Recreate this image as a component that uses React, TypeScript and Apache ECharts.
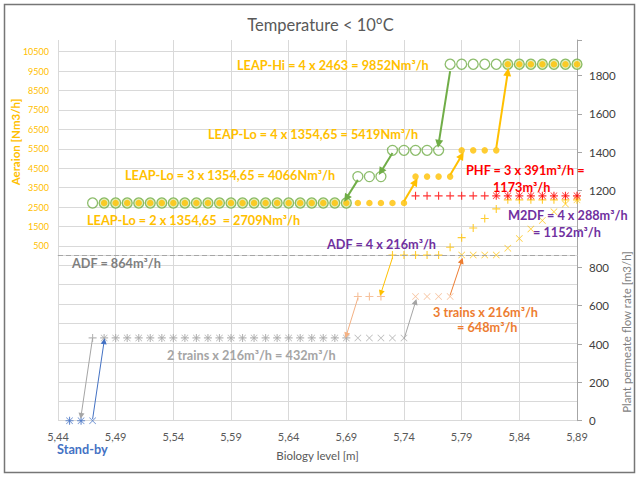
import React, { useEffect, useRef } from 'react';
import * as echarts from 'echarts';

const levels = ['5,44','5,45','5,46','5,47','5,48','5,49','5,50','5,51','5,52','5,53','5,54','5,55','5,56','5,57','5,58','5,59','5,60','5,61','5,62','5,63','5,64','5,65','5,66','5,67','5,68','5,69','5,70','5,71','5,72','5,73','5,74','5,75','5,76','5,77','5,78','5,79','5,80','5,81','5,82','5,83','5,84','5,85','5,86','5,87','5,88','5,89'];

// permeate flow [m3/h], '+' = rising level, 'x' = falling level
const flowUpStandby = [['5,45',0],['5,46',0]];
const flowDownStandby = [['5,45',0],['5,46',0],['5,47',0]];
const flowUp2Trains = [['5,47',432],['5,48',432],['5,49',432],['5,50',432],['5,51',432],['5,52',432],['5,53',432],['5,54',432],['5,55',432],['5,56',432],['5,57',432],['5,58',432],['5,59',432],['5,60',432],['5,61',432],['5,62',432],['5,63',432],['5,64',432],['5,65',432],['5,66',432],['5,67',432],['5,68',432],['5,69',432]];
const flowDown2Trains = [['5,48',432],['5,49',432],['5,50',432],['5,51',432],['5,52',432],['5,53',432],['5,54',432],['5,55',432],['5,56',432],['5,57',432],['5,58',432],['5,59',432],['5,60',432],['5,61',432],['5,62',432],['5,63',432],['5,64',432],['5,65',432],['5,66',432],['5,67',432],['5,68',432],['5,69',432],['5,70',432],['5,71',432],['5,72',432],['5,73',432],['5,74',432]];
const flowUp3Trains = [['5,70',648],['5,71',648],['5,72',648]];
const flowDown3Trains = [['5,75',648],['5,76',648],['5,77',648],['5,78',648]];
const flowUp4Trains = [['5,73',864],['5,74',864],['5,75',864],['5,76',864],['5,77',864],['5,78',905],['5,79',955],['5,80',1005],['5,81',1055],['5,82',1105],['5,83',1152],['5,84',1152],['5,85',1152],['5,86',1152],['5,87',1152],['5,88',1152],['5,89',1152]];
const flowDown4Trains = [['5,79',864],['5,80',864],['5,81',864],['5,82',864],['5,83',900],['5,84',950],['5,85',1000],['5,86',1045],['5,87',1090],['5,88',1130],['5,89',1152]];
const flowUpPHF = [['5,75',1173],['5,76',1173],['5,77',1173],['5,78',1173],['5,79',1173],['5,80',1173],['5,81',1173],['5,82',1173],['5,83',1173],['5,84',1173],['5,85',1173],['5,86',1173],['5,87',1173],['5,88',1173],['5,89',1173]];
const flowDownPHF = [['5,82',1173],['5,83',1173],['5,84',1173],['5,85',1173],['5,86',1173],['5,87',1173],['5,88',1173],['5,89',1173]];
const adfFlow = 864;

// aeration [Nm3/h]
const aerationUp = [['5,47',2709],['5,48',2709],['5,49',2709],['5,50',2709],['5,51',2709],['5,52',2709],['5,53',2709],['5,54',2709],['5,55',2709],['5,56',2709],['5,57',2709],['5,58',2709],['5,59',2709],['5,60',2709],['5,61',2709],['5,62',2709],['5,63',2709],['5,64',2709],['5,65',2709],['5,66',2709],['5,67',2709],['5,68',2709],['5,69',2709],['5,70',4066],['5,71',4066],['5,72',4066],['5,73',5419],['5,74',5419],['5,75',5419],['5,76',5419],['5,77',5419],['5,78',9852],['5,79',9852],['5,80',9852],['5,81',9852],['5,82',9852],['5,83',9852],['5,84',9852],['5,85',9852],['5,86',9852],['5,87',9852],['5,88',9852],['5,89',9852]];
const aerationDown = [['5,48',2709],['5,49',2709],['5,50',2709],['5,51',2709],['5,52',2709],['5,53',2709],['5,54',2709],['5,55',2709],['5,56',2709],['5,57',2709],['5,58',2709],['5,59',2709],['5,60',2709],['5,61',2709],['5,62',2709],['5,63',2709],['5,64',2709],['5,65',2709],['5,66',2709],['5,67',2709],['5,68',2709],['5,69',2709],['5,70',2709],['5,71',2709],['5,72',2709],['5,73',2709],['5,74',2709],['5,75',4066],['5,76',4066],['5,77',4066],['5,78',4066],['5,79',5419],['5,80',5419],['5,81',5419],['5,82',5419],['5,83',9852],['5,84',9852],['5,85',9852],['5,86',9852],['5,87',9852],['5,88',9852],['5,89',9852]];

// annotation arrows [from, to] in data space
const flowArrows = [
  { from: ['5,47', 432], to: ['5,46', 25], color: '#A5A5A5' },
  { from: ['5,47', 8], to: ['5,48', 415], color: '#4472C4' },
  { from: ['5,70', 640], to: ['5,69', 445], color: '#F4B183' },
  { from: ['5,74', 425], to: ['5,75', 620], color: '#A5A5A5' },
  { from: ['5,73', 850], to: ['5,72', 665], color: '#FFC000' },
  { from: ['5,78', 655], to: ['5,79', 835], color: '#ED7D31' },
];
const aerationArrows = [
  { from: ['5,78', 9500], to: ['5,77', 5750], color: '#70AD47' },
  { from: ['5,73', 5285], to: ['5,72', 4322], color: '#70AD47' },
  { from: ['5,70', 3900], to: ['5,69', 2950], color: '#70AD47' },
  { from: ['5,74', 2800], to: ['5,75', 3800], color: '#FFC000' },
  { from: ['5,78', 4150], to: ['5,79', 5150], color: '#FFC000' },
  { from: ['5,82', 5550], to: ['5,83', 9450], color: '#FFC000' },
];

const PLUS = 'path://M4.3,0H5.7V10H4.3Z M0,4.3H10V5.7H0Z';
const CROSS = 'path://M0.7,0L10,9.3L9.3,10L0,0.7Z M9.3,0L10,0.7L0.7,10L0,9.3Z';
const FONT = 'Lato';

const idx = (l: string) => levels.indexOf(l);
const pts = (arr: any[]) => arr.map(([l, v]) => [idx(l), v]);
const arrowData = (arr: any[], width: number) =>
  arr.map((a) => [
    { coord: [idx(a.from[0]), a.from[1]], lineStyle: { color: a.color, width, type: 'solid' } },
    { coord: [idx(a.to[0]), a.to[1]] },
  ]);

// green rings get a light fill where a yellow dot sits on the same point
const aerationUpItems = aerationUp.map(([l, v]) => {
  const shared = aerationDown.some(([l2, v2]) => l2 === l && v2 === v);
  return {
    value: [idx(l as string), v],
    itemStyle: { color: shared ? '#DCE9A6' : 'rgba(255,255,255,0)' },
  };
});

const flowSeries = (name: string, data: any[], symbol: string, color: string, size = 8, extra: any = {}) => ({
  type: 'scatter', name, yAxisIndex: 1, data: pts(data), symbol, symbolSize: size,
  itemStyle: { color }, z: 3, silent: true, ...extra,
});

const txt = (text: string, x: number, y: number, fill: string, extra: any = {}) => ({
  type: 'text', x, y, z: 100,
  style: { text, fill, fontFamily: FONT, fontSize: 12.7, fontWeight: 'bold', textAlign: 'left', textVerticalAlign: 'middle', ...extra },
});

export default function App() {
  const ref = useRef<HTMLDivElement>(null);
  useEffect(() => {
    if (!ref.current) return;
    const chart = echarts.init(ref.current, undefined, { renderer: 'svg' });
    chart.setOption({
      animation: false,
      backgroundColor: '#ffffff',
      textStyle: { fontFamily: FONT },
      title: {
        text: 'Temperature < 10°C', left: 'center', top: 16, padding: 0,
        textStyle: { color: '#595959', fontSize: 16.5, fontWeight: 'normal', fontFamily: FONT },
      },
      grid: { left: 58, right: 64, top: 40, bottom: 57.3, containLabel: false },
      xAxis: {
        type: 'category', data: levels, boundaryGap: false,
        axisLine: { show: true, lineStyle: { color: '#d9d9d9' } },
        axisTick: { show: false },
        axisLabel: { interval: 4, color: '#595959', fontSize: 11, margin: 10, fontFamily: FONT },
        splitLine: { show: true, interval: 4, lineStyle: { color: '#d9d9d9' } },
        name: 'Biology level [m]', nameLocation: 'middle', nameGap: 29,
        nameTextStyle: { color: '#595959', fontSize: 11.5, fontFamily: FONT },
      },
      yAxis: [
        {
          type: 'value', min: -8500, max: 11100, interval: 500, position: 'left',
          axisLine: { show: false }, axisTick: { show: false }, splitLine: { show: false },
          axisLabel: {
            color: '#FFC000', fontSize: 9, margin: 9, fontFamily: FONT,
            formatter: (v: number) => (v > 0 && (v - 500) % 1000 === 0 ? String(v) : ''),
          },
        },
        {
          type: 'value', min: 0, max: 1986, interval: 200, position: 'right',
          axisLine: { show: true, lineStyle: { color: '#a6a6a6' } },
          axisTick: { show: true, length: 5, lineStyle: { color: '#a6a6a6' } },
          splitLine: { show: false },
          axisLabel: {
            color: '#404040', fontSize: 11.5, margin: 12, fontFamily: FONT,
            // the 1000 label is covered by the "= 1152m³/h" note in the original
            formatter: (v: number) => (v % 200 === 0 && v !== 1000 ? String(v) : ''),
          },
        },
        {
          type: 'value', min: 0, max: 19.6, interval: 1, position: 'left',
          axisLine: { show: false }, axisTick: { show: false }, axisLabel: { show: false },
          splitLine: { show: true, showMaxLine: false, lineStyle: { color: '#d9d9d9' } },
        },
      ],
      series: [
        {
          type: 'scatter', name: 'Aeration rising', yAxisIndex: 0, data: aerationUpItems,
          symbol: 'circle', symbolSize: 10, silent: true, z: 2,
          itemStyle: { borderColor: '#70AD47', borderWidth: 1.3 },
          markLine: {
            silent: true, symbol: ['none', 'triangle'], symbolSize: 8, label: { show: false },
            data: arrowData(aerationArrows, 2),
          },
        },
        {
          type: 'scatter', name: 'Aeration falling', yAxisIndex: 0, data: pts(aerationDown),
          symbol: 'circle', symbolSize: 6.5, silent: true, z: 2,
          itemStyle: { color: '#FFC000' },
        },
        flowSeries('Stand-by rising', flowUpStandby, PLUS, '#4472C4'),
        flowSeries('Stand-by falling', flowDownStandby, CROSS, '#4472C4', 7),
        flowSeries('2 trains rising', flowUp2Trains, PLUS, '#A5A5A5', 8, {
          markLine: {
            silent: true, symbol: ['none', 'triangle'], symbolSize: 6, label: { show: false },
            data: arrowData(flowArrows, 1),
          },
        }),
        flowSeries('2 trains falling', flowDown2Trains, CROSS, '#A5A5A5', 7, {
          markLine: {
            silent: true, symbol: ['none', 'none'], label: { show: false },
            lineStyle: { color: '#a6a6a6', type: [5, 3], width: 1 },
            data: [{ yAxis: adfFlow }],
          },
        }),
        flowSeries('3 trains rising', flowUp3Trains, PLUS, '#F4B183'),
        flowSeries('3 trains falling', flowDown3Trains, CROSS, '#F4B183', 7),
        flowSeries('4 trains rising', flowUp4Trains, PLUS, '#FFC000'),
        flowSeries('4 trains falling', flowDown4Trains, CROSS, '#FFC000', 7),
        flowSeries('PHF rising', flowUpPHF, PLUS, '#FF0000'),
        flowSeries('PHF falling', flowDownPHF, CROSS, '#FF0000', 7),
      ],
      graphic: [
        { type: 'rect', shape: { x: 4.5, y: 4.5, width: 630, height: 468 }, style: { fill: 'none', stroke: '#767676', lineWidth: 1.5 }, z: 100 },
        txt('LEAP-Hi = 4 x 2463 = 9852Nm³/h', 237, 65, '#FFC000'),
        txt('LEAP-Lo = 4 x 1354,65 = 5419Nm³/h', 208, 134, '#FFC000'),
        txt('LEAP-Lo = 3 x 1354,65 = 4066Nm³/h', 125, 174.5, '#FFC000'),
        txt('LEAP-Lo = 2 x 1354,65  = 2709Nm³/h', 87, 219.5, '#FFC000'),
        txt('ADF = 864m³/h', 72, 263, '#7F7F7F'),
        txt('ADF = 4 x 216m³/h', 327, 244, '#7030A0'),
        txt('M2DF = 4 x 288m³/h', 508, 215, '#7030A0'),
        txt('= 1152m³/h', 533, 232, '#7030A0'),
        txt('PHF = 3 x 391m³/h =', 466, 169.5, '#FF0000'),
        txt('1173m³/h', 493, 187, '#FF0000'),
        txt('3 trains x 216m³/h', 433, 312, '#ED7D31'),
        txt('= 648m³/h', 457, 327, '#ED7D31'),
        txt('2 trains x 216m³/h = 432m³/h', 167, 355, '#A5A5A5'),
        txt('Stand-by', 57, 449, '#4472C4'),
        {
          type: 'text', x: 15, y: 142, rotation: Math.PI / 2, z: 100,
          style: { text: 'Aeraion [Nm3/h]', fill: '#FFC000', fontFamily: FONT, fontSize: 11.5, fontWeight: 'bold', textAlign: 'center', textVerticalAlign: 'middle' },
        },
        {
          type: 'text', x: 626, y: 332, rotation: Math.PI / 2, z: 100,
          style: { text: 'Plant permeate flow rate [m3/h]', fill: '#7F7F7F', fontFamily: FONT, fontSize: 11.5, textAlign: 'center', textVerticalAlign: 'middle' },
        },
      ],
    });
    return () => chart.dispose();
  }, []);
  return <div ref={ref} style={{ position: 'absolute', left: 0, top: 0, width: 641, height: 478 }} />;
}
